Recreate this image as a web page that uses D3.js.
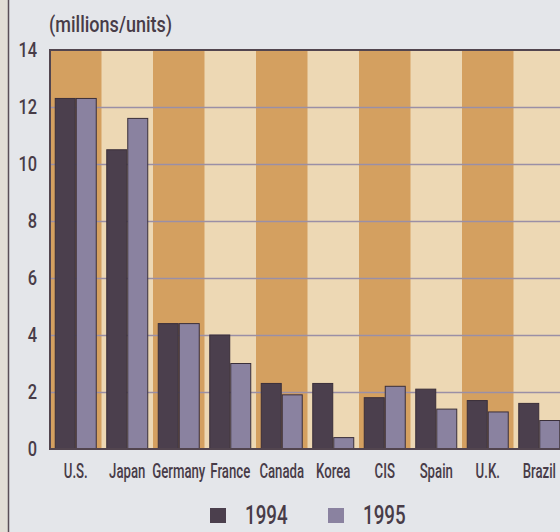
<!DOCTYPE html>
<html>
<head>
<meta charset="utf-8">
<script src="https://cdn.jsdelivr.net/npm/d3@7"></script>
<style>
    html, body { margin: 0; padding: 0; background: #e4e6ea; }
    svg { display: block; }
    text { font-family: Roboto, "DejaVu Sans", sans-serif; font-weight: 500; fill: #483c48; }
</style>
</head>
<body>
<svg id="chart" width="560" height="532"></svg>
<script>
// data
var categories = ['U.S.', 'Japan', 'Germany', 'France', 'Canada', 'Korea', 'CIS', 'Spain', 'U.K.', 'Brazil'];
var years = ['1994', '1995'];
var values1994 = [12.3, 10.5, 4.4, 4.0, 2.3, 2.3, 1.8, 2.1, 1.7, 1.6];
var values1995 = [12.3, 11.6, 4.4, 3.0, 1.9, 0.4, 2.2, 1.4, 1.3, 1.0];
var yTicks = [0, 2, 4, 6, 8, 10, 12, 14];
var unitLabel = '(millions/units)';

var barColor = {'1994': '#4b3f4d', '1995': '#8a82a0'};
var stripeColor = ['#d4a060', '#edd8b4'];

var svg = d3.select('svg#chart');

var margin = {left: 50, top: 50, right: -5, bottom: 83};
var width = 560, height = 532;

// the print face is a condensed sans, so squeeze the text horizontally
function squeeze(sel, sx, px, py) {
    sel.attr('transform', (d, i) => 'translate(' + px(d, i) + ',' + py(d, i) + ') scale(' + sx + ',1)');
}

var x = d3.scaleBand()
    .domain(categories)
    .range([margin.left, width - margin.right])
    .padding(0);

var x1 = d3.scaleBand()
    .domain(years)
    .range([0, x.bandwidth()])
    .paddingInner(0.048)
    .paddingOuter(0.25);

var y = d3.scaleLinear()
    .domain([0, 14])
    .range([height - margin.bottom, margin.top]);

// left page edge
svg.append('rect')
    .attr('x', 0).attr('y', 0)
    .attr('width', 8).attr('height', height)
    .attr('fill', '#e2ded6');
svg.append('line')
    .attr('x1', 8.5).attr('x2', 8.5)
    .attr('y1', 0).attr('y2', height)
    .attr('stroke', '#5a4f58')
    .attr('stroke-width', 1.5);

// stripes
svg.append('g')
    .selectAll('rect')
    .data(categories)
    .join('rect')
    .attr('x', d => x(d))
    .attr('y', y(14))
    .attr('width', x.bandwidth() + 0.5)
    .attr('height', y(0) - y(14))
    .attr('fill', (d, i) => stripeColor[i % 2]);

// grid
svg.append('g')
    .selectAll('line')
    .data(yTicks.filter(d => d > 0 && d < 14))
    .join('line')
    .attr('x1', margin.left)
    .attr('x2', width)
    .attr('y1', d => Math.round(y(d)) + 0.5)
    .attr('y2', d => Math.round(y(d)) + 0.5)
    .attr('stroke', '#9a8fa6')
    .attr('stroke-width', 1.5);

// bars
var rows = categories.map(function(c, i) {
    return {cat: c, values: [
        {year: '1994', value: values1994[i]},
        {year: '1995', value: values1995[i]}
    ]};
});

svg.append('g')
    .selectAll('g')
    .data(rows)
    .join('g')
    .attr('transform', d => 'translate(' + x(d.cat) + ',0)')
    .selectAll('rect')
    .data(d => d.values)
    .join('rect')
    .attr('x', d => x1(d.year))
    .attr('y', d => y(d.value))
    .attr('width', x1.bandwidth())
    .attr('height', d => y(0) - y(d.value))
    .attr('fill', d => barColor[d.year])
    .attr('stroke', '#3a2f3a')
    .attr('stroke-width', 1);

// frame: top, left and baseline
svg.append('path')
    .attr('d', 'M' + width + ',' + y(14) + 'H' + margin.left + 'V' + y(0) + 'H' + width)
    .attr('fill', 'none')
    .attr('stroke', '#52454f')
    .attr('stroke-width', 2);

// y labels
svg.append('g')
    .selectAll('text')
    .data(yTicks)
    .join('text')
    .attr('dy', '0.36em')
    .attr('text-anchor', 'end')
    .attr('font-size', 20)
    .text(d => d)
    .call(squeeze, 0.82, () => 37, d => y(d));

// x labels
svg.append('g')
    .selectAll('text')
    .data(categories)
    .join('text')
    .attr('text-anchor', 'middle')
    .attr('font-size', 20)
    .text(d => d)
    .call(squeeze, 0.66, d => x(d) + x.bandwidth() / 2, () => 478);

svg.append('text')
    .attr('font-size', 22)
    .text(unitLabel)
    .call(squeeze, 0.82, () => 49, () => 32);

// legend
var legend = svg.append('g')
    .selectAll('g')
    .data(years)
    .join('g')
    .attr('transform', (d, i) => 'translate(' + (210 + i * 118) + ',508)');

legend.append('rect')
    .attr('width', 16)
    .attr('height', 15)
    .attr('fill', d => barColor[d]);

legend.append('text')
    .attr('font-size', 26)
    .text(d => d)
    .call(squeeze, 0.72, () => 35, () => 16);
</script>
</body>
</html>
